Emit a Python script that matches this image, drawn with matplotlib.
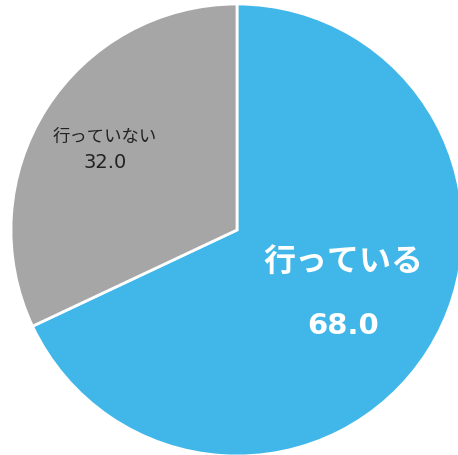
import matplotlib
matplotlib.use("Agg")
import matplotlib.pyplot as plt

plt.rcParams['font.family'] = ['Noto Sans CJK JP', 'DejaVu Sans']

labels = ["行っている", "行っていない"]
values = [68.0, 32.0]
colors = ["#41B7E9", "#A6A6A6"]

fig = plt.figure(figsize=(4.58, 4.56), dpi=100)
ax = fig.add_axes([0, 0, 1, 1])

ax.pie(values, colors=colors, startangle=90, counterclock=False,
       radius=1.0, center=(0, 0),
       wedgeprops=dict(edgecolor="white", linewidth=2))

# pixel layout: centre at (237, 231), radius 226 px
ax.set_xlim(-237 / 226, (458 - 237) / 226)
ax.set_ylim(-(456 - 231) / 226, 231 / 226)
ax.set_aspect("auto")
ax.axis("off")

# big label inside blue slice
ax.text(0.469, -0.137, labels[0], ha="center", va="center", color="white",
        fontsize=23, fontweight="bold")
ax.text(0.469, -0.42, f"{values[0]:.1f}", ha="center", va="center", color="white",
        fontsize=21, fontweight="bold", family="DejaVu Sans")

# small label inside gray slice
ax.text(-0.584, 0.416, labels[1], ha="center", va="center", color="#222222",
        fontsize=12.5)
ax.text(-0.584, 0.305, f"{values[1]:.1f}", ha="center", va="center", color="#222222",
        fontsize=14, family="DejaVu Sans")

fig.savefig("out.png", dpi=100)
